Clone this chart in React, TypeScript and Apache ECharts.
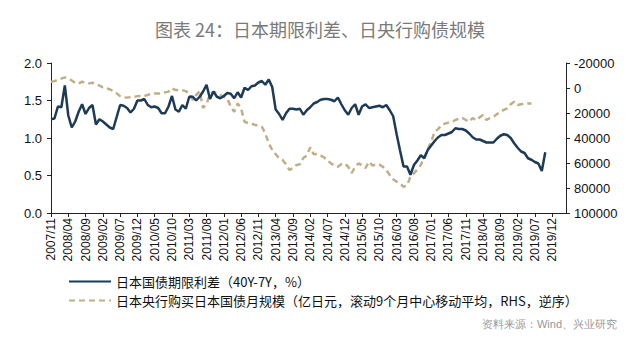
import React, { useEffect, useRef } from "react";
import * as echarts from "echarts";

const startYear = 2007;
const startMonth = 11;
const monthCount = 150; // 2007/11 .. 2020/04

const categories: string[] = [];
for (let k = 0; k < monthCount; k++) {
  const m = startMonth - 1 + k;
  const y = startYear + Math.floor(m / 12);
  const mm = (m % 12) + 1;
  categories.push(`${y}/${mm < 10 ? "0" + mm : mm}`);
}

const spreadSeries: number[] = [
  1.25, 1.26, 1.42, 1.41, 1.70, 1.30, 1.14, 1.22, 1.35, 1.45,
  1.32, 1.40, 1.44, 1.18, 1.25, 1.22, 1.18, 1.14, 1.12, 1.28,
  1.44, 1.43, 1.40, 1.34, 1.39, 1.50, 1.50, 1.52, 1.44, 1.41,
  1.42, 1.40, 1.33, 1.33, 1.42, 1.56, 1.38, 1.35, 1.44, 1.39,
  1.55, 1.55, 1.50, 1.55, 1.62, 1.71, 1.52, 1.62, 1.55, 1.53,
  1.56, 1.60, 1.59, 1.53, 1.61, 1.54, 1.67, 1.64, 1.69, 1.70,
  1.74, 1.76, 1.71, 1.78, 1.68, 1.38, 1.32, 1.24, 1.33, 1.39,
  1.39, 1.38, 1.39, 1.31, 1.37, 1.41, 1.46, 1.48, 1.51, 1.52,
  1.52, 1.51, 1.49, 1.54, 1.45, 1.37, 1.31, 1.40, 1.45, 1.31,
  1.42, 1.45, 1.40, 1.41, 1.42, 1.43, 1.41, 1.44, 1.37, 1.29,
  1.05, 0.83, 0.62, 0.62, 0.51, 0.64, 0.70, 0.77, 0.73, 0.84,
  0.90, 0.96, 1.01, 1.04, 1.04, 1.06, 1.08, 1.13, 1.12, 1.12,
  1.10, 1.06, 1.01, 0.98, 0.98, 0.96, 0.94, 0.94, 0.94, 0.99,
  1.03, 1.05, 1.04, 1.00, 0.93, 0.87, 0.82, 0.80, 0.73, 0.71,
  0.68, 0.66, 0.56, 0.81,
];

const purchaseSeries: number[] = [
  -5000, -5500, -6500, -7500, -8500, -7500, -6000, -4000, -3700, -5000,
  -4200, -3700, -4200, -3000, -2000, -500, 200, 1000, 2500, 4300,
  6500, 7500, 7700, 7300, 7000, 6500, 6400, 6400, 5500, 4800,
  4300, 4300, 4300, 3500, 2900, 300, 1600, 1600, 1800, 2500,
  4300, 9600, 5600, 2900, 16000, 12800, 4800, 3000, 4500, 5600,
  7000, 8300, 15000, 19000, 12300, 16300, 27000, 28000, 28300, 29600,
  30000, 31000, 36300, 44300, 49600, 53000, 56000, 57600, 61000, 65600,
  64000, 61600, 61000, 56000, 54000, 47500, 53000, 52800, 54000, 55500,
  58000, 60300, 62000, 63000, 61000, 60300, 63000, 68000, 63000, 60300,
  62000, 64000, 59000, 62000, 61300, 61300, 63000, 65600, 69600, 73000,
  75000, 76300, 79000, 78000, 71000, 68300, 65000, 61600, 55000, 49000,
  43000, 35000, 32900, 29600, 28500, 27700, 27000, 25600, 24500, 24000,
  25600, 27000, 24000, 25800, 23500, 21600, 25600, 24000, 23000, 21000,
  19000, 17500, 16300, 13000, 11000, 13600, 13000, 12800, 12300, 12300,
];

const titleText = "图表 24：日本期限利差、日央行购债规模";
const spreadName = "日本国债期限利差（40Y-7Y，%）";
const purchaseName = "日本央行购买日本国债月规模（亿日元，滚动9个月中心移动平均，RHS，逆序）";
const sourceText = "资料来源：Wind、兴业研究";

const BLUE = "#1d3a57";
const TAN = "#bfae88";
const AXIS = "#222";
const FONT = "'Liberation Sans', Arial, sans-serif";
const CJK = "'Noto Sans CJK SC', sans-serif";

export default function App() {
  const ref = useRef<HTMLDivElement>(null);
  useEffect(() => {
    if (!ref.current) return;
    const chart = echarts.init(ref.current, null, { renderer: "svg" });
    chart.setOption({
      animation: false,
      backgroundColor: "#fff",
      title: {
        text: titleText,
        left: "center",
        top: 20,
        padding: 0,
        textStyle: { fontSize: 18, color: "#7a7a7a", fontWeight: "normal", fontFamily: CJK },
      },
      grid: { left: 51, right: 74, top: 63, bottom: 128, containLabel: false },
      legend: {
        orient: "vertical",
        left: 63,
        top: 270,
        itemWidth: 42,
        itemHeight: 14,
        itemGap: 6,
        itemStyle: { opacity: 0 },
        textStyle: { fontSize: 13, color: "#111", fontFamily: CJK },
        data: [spreadName, purchaseName],
      },
      graphic: [
        {
          type: "text",
          right: 23,
          top: 318,
          style: { text: sourceText, fontSize: 11, fill: "#999", font: `11px ${CJK}` },
        },
      ],
      xAxis: {
        type: "category",
        data: categories,
        boundaryGap: false,
        axisLine: { lineStyle: { color: AXIS, width: 1 } },
        axisTick: { interval: 4, length: 4, lineStyle: { color: AXIS } },
        axisLabel: { interval: 4, rotate: 90, fontSize: 12, color: "#111", fontFamily: FONT, margin: 5 },
        splitLine: { show: false },
      },
      yAxis: [
        {
          type: "value",
          min: 0,
          max: 2,
          interval: 0.5,
          position: "left",
          axisLine: { show: true, lineStyle: { color: AXIS } },
          axisTick: { show: true, length: 4, lineStyle: { color: AXIS } },
          axisLabel: {
            fontSize: 13,
            color: "#111",
            fontFamily: FONT,
            margin: 9,
            formatter: (v: number) => v.toFixed(1),
          },
          splitLine: { show: false },
        },
        {
          type: "value",
          min: -20000,
          max: 100000,
          interval: 20000,
          inverse: true,
          position: "right",
          axisLine: { show: true, lineStyle: { color: AXIS } },
          axisTick: { show: true, length: 4, lineStyle: { color: AXIS } },
          axisLabel: {
            fontSize: 13,
            color: "#111",
            fontFamily: FONT,
            margin: 8,
            formatter: (v: number) => String(v),
          },
          splitLine: { show: false },
        },
      ],
      series: [
        {
          name: spreadName,
          type: "line",
          yAxisIndex: 0,
          data: spreadSeries,
          showSymbol: false,
          symbol: "none",
          z: 3,
          lineStyle: { color: BLUE, width: 2.5 },
          itemStyle: { color: BLUE },
        },
        {
          name: purchaseName,
          type: "line",
          yAxisIndex: 1,
          data: purchaseSeries,
          showSymbol: false,
          symbol: "none",
          z: 2,
          lineStyle: { color: TAN, width: 2.5, type: [6, 4] },
          itemStyle: { color: TAN },
        },
      ],
    });
    return () => chart.dispose();
  }, []);
  return (
    <div
      ref={ref}
      style={{ position: "fixed", left: 0, top: 0, width: 640, height: 341 }}
    />
  );
}
